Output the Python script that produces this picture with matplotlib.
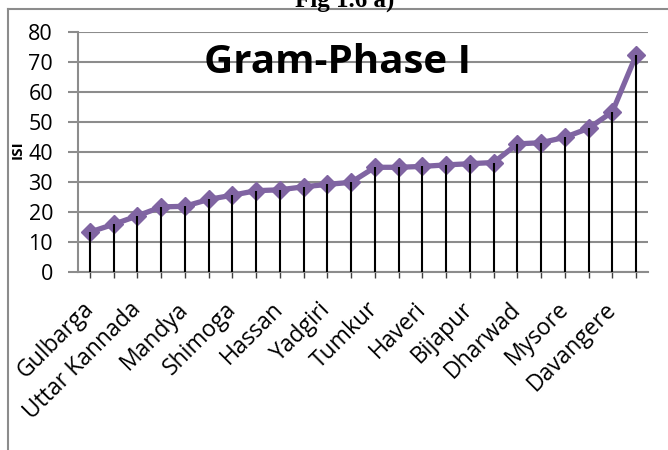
import matplotlib
matplotlib.use('Agg')
import matplotlib.pyplot as plt
from matplotlib.lines import Line2D
import numpy as np

# ISI values per district (sorted ascending), 24 districts
isi_values = [13.4, 16.0, 18.8, 21.8, 22.0, 24.3, 25.7, 27.2, 27.5, 28.5, 29.3, 30.0,
              35.0, 35.0, 35.3, 35.8, 36.2, 36.6, 42.8, 43.2, 45.0, 48.0, 53.5, 72.4]
# only every second district name is shown on the axis
shown_labels = ['Gulbarga', 'Uttar Kannada', 'Mandya', 'Shimoga', 'Hassan', 'Yadgiri',
                'Tumkur', 'Haveri', 'Bijapur', 'Dharwad', 'Mysore', 'Davangere']
y_ticks = [0, 10, 20, 30, 40, 50, 60, 70, 80]

purple = '#8064A2'
grid_gray = '#8C8C8C'

fig = plt.figure(figsize=(6.68, 4.5), dpi=100)
ax = fig.add_axes([78 / 668, 1 - 272.3 / 450, 570 / 668, 240 / 450])

x = np.arange(len(isi_values))

# drop lines from each point down to the axis
ax.vlines(x, 0, isi_values, color='black', linewidth=1.5, zorder=3)
ax.plot(x, isi_values, color=purple, linewidth=3.8, marker='D', markersize=9,
        markerfacecolor=purple, markeredgecolor=purple, zorder=2)

ax.set_xlim(-0.5, len(isi_values) - 0.5)
ax.set_ylim(0, 80)
ax.set_yticks(y_ticks)
ax.set_yticklabels([str(v) for v in y_ticks], fontsize=15.5, family='Open Sans')

ax.set_xticks(x)
tick_text = [''] * len(isi_values)
for i, name in enumerate(shown_labels):
    tick_text[2 * i] = name
ax.set_xticklabels(tick_text, rotation=45, ha='right', va='center',
                   rotation_mode='anchor', fontsize=16.5, family='Open Sans')

ax.grid(axis='y', color=grid_gray, linewidth=1.5, zorder=0)
ax.set_axisbelow(True)
for side in ['top', 'right']:
    ax.spines[side].set_visible(False)
ax.spines['left'].set_color(grid_gray)
ax.spines['bottom'].set_color(grid_gray)
ax.spines['left'].set_linewidth(1.5)
ax.spines['bottom'].set_linewidth(1.5)
ax.tick_params(axis='y', length=7, width=1.5, color=grid_gray, pad=11)
ax.tick_params(axis='x', length=4, width=1.0, color='#404040', pad=20)

ax.set_ylabel('ISI', fontsize=11, fontweight='bold', family='Open Sans')
ax.yaxis.set_label_coords(-0.093, 0.51)

ax.text(0.455, 0.875, 'Gram-Phase I', transform=ax.transAxes, ha='center', va='center',
        fontsize=29, fontweight='bold', family='Open Sans')

# outer chart border
fig.add_artist(Line2D([8 / 668, 8 / 668], [0, 1 - 9.3 / 450], color='#8C8C8C', linewidth=1.5))
fig.add_artist(Line2D([8 / 668, 1], [1 - 9.3 / 450, 1 - 9.3 / 450], color='#8C8C8C', linewidth=1.5))

# figure caption, cut at the top edge as in the source page
fig.text(345 / 668, 1 - 6.5 / 450, 'Fig 1.6 a)', ha='center', va='baseline',
         fontsize=18, fontweight='bold', family='Liberation Serif')

fig.savefig('out.png', dpi=100)
